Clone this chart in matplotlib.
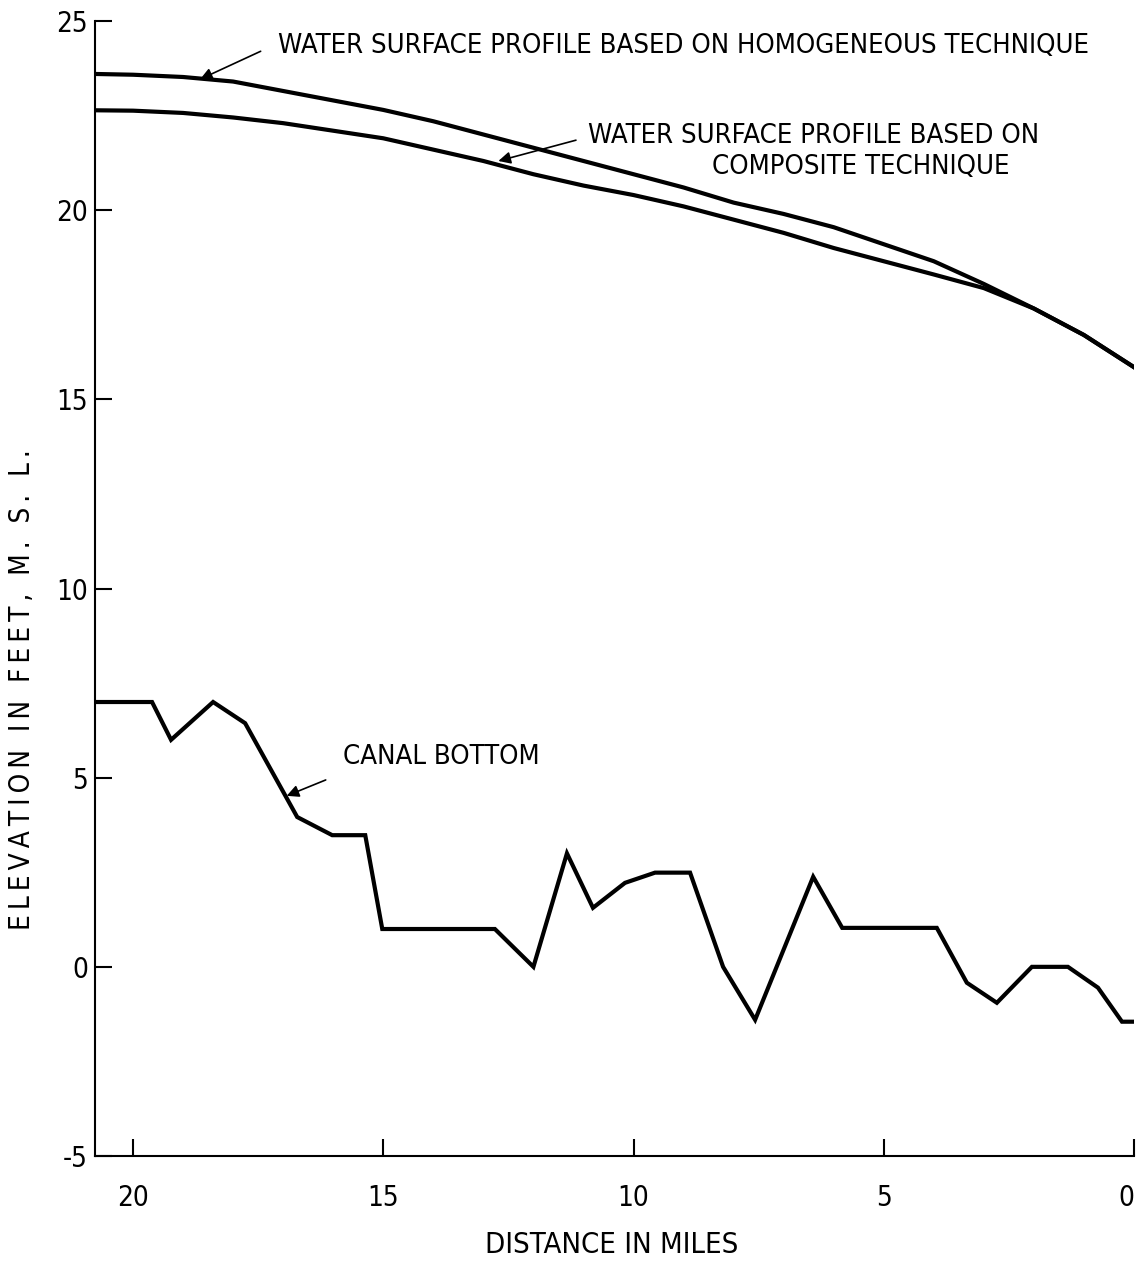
import matplotlib
matplotlib.use("Agg")
import matplotlib.pyplot as plt

# Data (distance in miles, elevation in feet M.S.L.)
homog_dist = [20.75, 20, 19, 18, 17, 16, 15, 14, 13, 12, 11, 10, 9, 8, 7, 6, 5, 4, 3, 2, 1, 0]
homog_elev = [23.6, 23.58, 23.52, 23.4, 23.15, 22.9, 22.65, 22.35, 22.0, 21.65, 21.3, 20.95,
              20.6, 20.2, 19.9, 19.55, 19.1, 18.65, 18.05, 17.4, 16.7, 15.85]

comp_dist = [20.75, 20, 19, 18, 17, 16, 15, 14, 13, 12, 11, 10, 9, 8, 7, 6, 5, 4, 3, 2, 1, 0]
comp_elev = [22.64, 22.63, 22.57, 22.45, 22.3, 22.1, 21.9, 21.6, 21.3, 20.95, 20.65, 20.4,
             20.1, 19.75, 19.4, 19.0, 18.65, 18.3, 17.94, 17.4, 16.7, 15.85]

canal_dist = [20.70, 19.62, 19.24, 18.40, 17.76, 16.72, 16.02, 15.36, 15.02, 12.77, 12.0,
              11.33, 10.81, 10.17, 9.57, 8.87, 8.21, 7.57, 6.41, 5.83, 3.94, 3.34, 2.74,
              2.04, 1.32, 0.72, 0.24, 0.0]
canal_elev = [7.0, 7.0, 6.0, 7.0, 6.44, 3.96, 3.48, 3.48, 1.0, 1.0, 0.0,
              3.0, 1.56, 2.22, 2.49, 2.49, 0.0, -1.40, 2.38, 1.03, 1.03, -0.42, -0.95,
              0.0, 0.0, -0.55, -1.45, -1.45]

x_ticks = [20, 15, 10, 5, 0]
y_ticks = [-5, 0, 5, 10, 15, 20, 25]

plt.rcParams['font.family'] = ["DejaVu Sans"]
plt.rcParams['font.stretch'] = "condensed"
FS = 20

fig = plt.figure(figsize=(11.39, 12.73), dpi=100)
ax = fig.add_axes([0.0834, 0.0919, 0.9956 - 0.0834, 0.9835 - 0.0919])

lw = 3.0
ax.plot(homog_dist, homog_elev, color="black", lw=lw, solid_joinstyle="round")
ax.plot(comp_dist, comp_elev, color="black", lw=lw, solid_joinstyle="round")
ax.plot(canal_dist, canal_elev, color="black", lw=lw, solid_joinstyle="miter")

ax.set_xlim(20.76, 0)
ax.set_ylim(-5, 25)
ax.set_xticks(x_ticks)
ax.set_yticks(y_ticks)
ax.set_xticklabels([str(t) for t in x_ticks])
ax.set_yticklabels([str(t) for t in y_ticks])
ax.get_xticklabels()[-1].set_horizontalalignment("right")

for s in ["top", "right"]:
    ax.spines[s].set_visible(False)
for s in ["left", "bottom"]:
    ax.spines[s].set_linewidth(1.5)

ax.tick_params(axis="x", direction="in", length=12, width=1.5, pad=20, labelsize=FS)
ax.tick_params(axis="y", direction="in", length=12, width=1.5, pad=5, labelsize=FS)

fig.text(0.537, 0.022, "DISTANCE IN MILES", fontsize=21, ha="center", va="center")
ylabel = "\u2009".join("ELEVATION IN FEET, M. S. L.")
fig.text(0.0193, 1 - 690 / 1273, ylabel, fontsize=FS,
         ha="center", va="center", rotation=90)

arrow = dict(arrowstyle="-|>", color="black", lw=1.2, mutation_scale=18,
             shrinkA=0, shrinkB=0)

# Homogeneous label
ax.annotate("", xy=(18.66, 23.46), xytext=(17.45, 24.2), arrowprops=arrow)
ax.text(17.10, 24.33, "WATER SURFACE PROFILE BASED ON HOMOGENEOUS TECHNIQUE",
        fontsize=19.7, ha="left", va="center")

# Composite label
ax.annotate("", xy=(12.7, 21.3), xytext=(11.15, 21.85), arrowprops=arrow)
ax.text(10.91, 21.95, "WATER SURFACE PROFILE BASED ON", fontsize=19.7, ha="left", va="center")
ax.text(8.43, 21.13, "COMPOSITE TECHNIQUE", fontsize=19.7, ha="left", va="center")

# Canal bottom label
ax.annotate("", xy=(16.93, 4.52), xytext=(16.15, 4.94), arrowprops=arrow)
ax.text(15.80, 5.54, "CANAL BOTTOM", fontsize=19.7, ha="left", va="center")

fig.savefig("out.png", dpi=100)
